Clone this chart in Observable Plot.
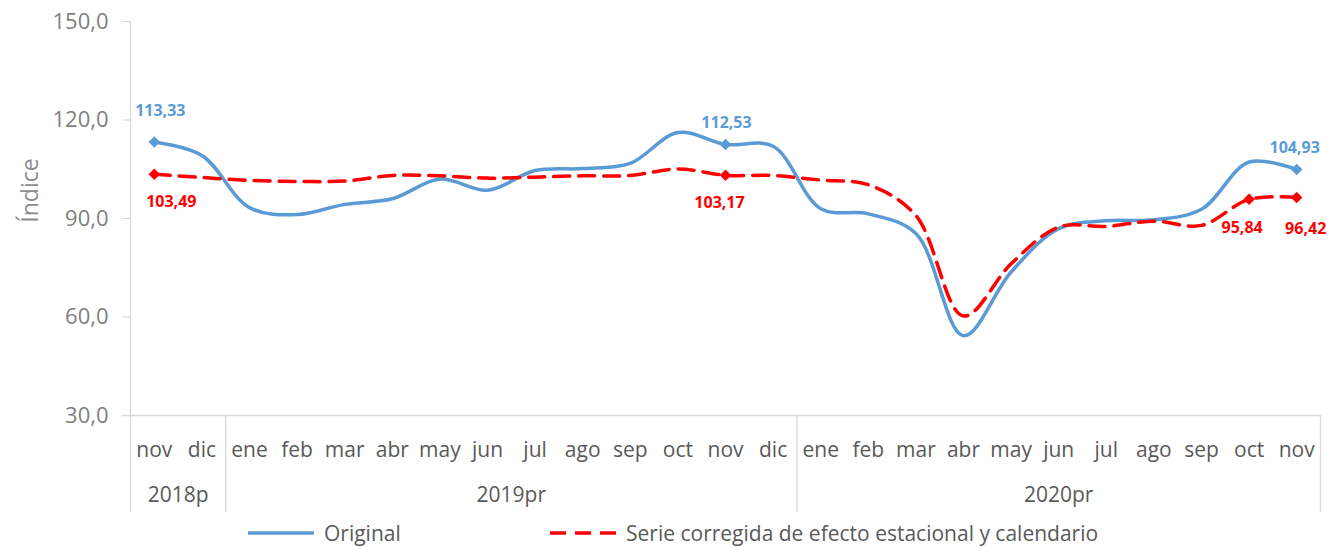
<!DOCTYPE html>
<html><head><meta charset="utf-8">
<script src="https://cdn.jsdelivr.net/npm/d3@7"></script>
<script src="https://cdn.jsdelivr.net/npm/@observablehq/plot@0.6"></script>
<style>
body{margin:0;background:#fff;font-family:"Open Sans",sans-serif;}
#chart svg{display:block;}
#legend{position:relative;height:32px;width:1335px;}
#legend .item{position:absolute;top:2px;height:32px;display:flex;align-items:center;font-size:21px;color:#595959;}
#legend svg{margin-right:6px;}
</style></head><body>
<div id="chart"></div>
<div id="legend"></div>
<script>
const months = ["nov","dic","ene","feb","mar","abr","may","jun","jul","ago","sep","oct","nov","dic","ene","feb","mar","abr","may","jun","jul","ago","sep","oct","nov"];
const years = ["2018p","2019pr","2020pr"];
const yearSpans = [2, 12, 11];
const original = [113.33,109.2,93.3,91.2,94.3,96.0,102.0,98.6,104.6,105.2,106.8,116.2,112.53,112.0,93.0,91.4,85.4,54.3,73.7,86.9,89.3,89.6,92.8,107.2,104.93];
const corregida = [103.49,102.5,101.6,101.3,101.4,103.1,103.0,102.3,102.6,103.0,103.1,105.1,103.17,103.1,101.7,100.3,90.9,60.3,76.2,87.4,87.6,89.2,87.9,95.84,96.42];
const seriesNames = ["Original","Serie corregida de efecto estacional y calendario"];
const labeledOriginal = [0, 12, 24];
const labeledCorregida = [0, 12, 23, 24];
const yTicks = [30, 60, 90, 120, 150];

const blue = "#5B9BD5", red = "#FF0000", grid = "#d9d9d9";
const fmt = v => v.toFixed(2).replace(".", ",");
const idx = months.map((_, i) => i);

// year groups
let start = 0;
const yearGroups = years.map((y, k) => { const g = {name: y, start, end: start + yearSpans[k] - 1}; start += yearSpans[k]; return g; });
const boundaries = [-0.5, ...yearGroups.map(g => g.end + 0.5)];

// label offsets (style)
const offO = {0: [6, -31], 12: [1, -22], 24: [-2, -22]};
const offC = {0: [17, 28], 12: [-6, 28], 23: [-7, 29], 24: [9, 31]};

const labelMarks = [];
for (const i of labeledOriginal) labelMarks.push(Plot.text([i], {x: d => d, y: d => original[d], text: d => fmt(original[d]), dx: offO[i][0], dy: offO[i][1], fill: blue, fontWeight: "bold", fontSize: 16}));
for (const i of labeledCorregida) labelMarks.push(Plot.text([i], {x: d => d, y: d => corregida[d], text: d => fmt(corregida[d]), dx: offC[i][0], dy: offC[i][1], fill: red, fontWeight: "bold", fontSize: 16}));

const chart = Plot.plot({
  width: 1335, height: 515,
  marginLeft: 130, marginRight: 15, marginTop: 21, marginBottom: 100,
  style: {fontFamily: "'Open Sans', sans-serif", background: "#fff"},
  x: {domain: [-0.5, months.length - 0.5], axis: null},
  y: {domain: [30, 150], axis: null},
  marks: [
    Plot.axisY({ticks: yTicks, tickFormat: d => d.toFixed(1).replace(".", ","), tickSize: 8, tickPadding: 14, stroke: grid, fill: "#7f7f7f", fontSize: 22, label: null}),
    Plot.ruleX([-0.5], {y1: 30, y2: 150, stroke: grid, strokeWidth: 1.3}),
    Plot.ruleY([30], {x1: -0.5, x2: months.length - 0.5, insetLeft: -8, stroke: grid, strokeWidth: 1.3}),
    Plot.ruleX(boundaries, {x: d => d, y1: () => 30, y2: () => 30, insetBottom: -97, stroke: grid, strokeWidth: 1.3}),
    Plot.text(months, {x: (d, i) => i, y: () => 30, dy: 35, text: d => d, fill: "#595959", fontSize: 21}),
    Plot.text(yearGroups, {x: g => (g.start + g.end) / 2, y: () => 30, dy: 80, text: g => g.name, fill: "#595959", fontSize: 21}),
    Plot.text(["Índice"], {frameAnchor: "left", textAnchor: "middle", dx: -100, dy: -28, rotate: -90, text: d => d, fill: "#8c8c8c", fontSize: 23}),
    Plot.line(idx, {x: i => i, y: i => original[i], curve: "catmull-rom", stroke: blue, strokeWidth: 3.5}),
    Plot.line(idx, {x: i => i, y: i => corregida[i], curve: "catmull-rom", stroke: red, strokeWidth: 3.5, strokeDasharray: "16,9"}),
    Plot.dot(labeledOriginal, {x: i => i, y: i => original[i], symbol: "diamond2", r: 5.2, fill: blue, stroke: null}),
    Plot.dot(labeledCorregida, {x: i => i, y: i => corregida[i], symbol: "diamond2", r: 5.2, fill: red, stroke: null}),
    ...labelMarks
  ]
});
document.getElementById("chart").appendChild(chart);

// legend
const legend = document.getElementById("legend");
const items = [
  {name: seriesNames[0], color: blue, dash: null, left: 248},
  {name: seriesNames[1], color: red, dash: "16,9", left: 550}
];
for (const it of items) {
  const div = document.createElement("div");
  div.className = "item";
  div.style.left = it.left + "px";
  const svg = d3.create("svg").attr("width", 70).attr("height", 8);
  svg.append("line").attr("x1", 0).attr("x2", 66).attr("y1", 4).attr("y2", 4)
    .attr("stroke", it.color).attr("stroke-width", 3.5).attr("stroke-dasharray", it.dash);
  div.appendChild(svg.node());
  const span = document.createElement("span");
  span.textContent = it.name;
  div.appendChild(span);
  legend.appendChild(div);
}
</script>
</body></html>
